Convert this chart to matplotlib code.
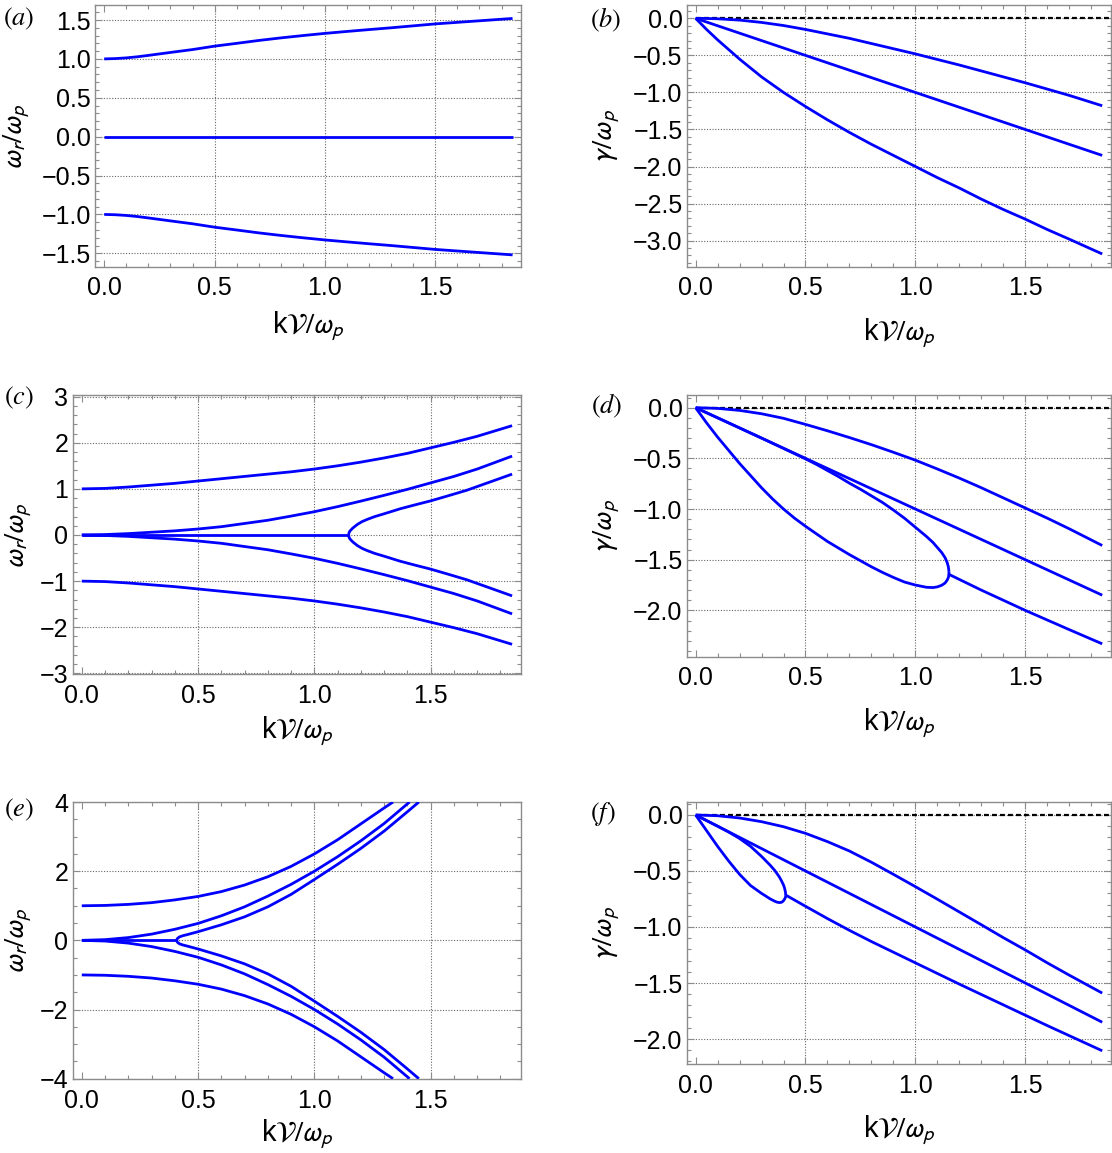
import numpy as np
import matplotlib
matplotlib.use('Agg')
import matplotlib.pyplot as plt
from matplotlib.ticker import MultipleLocator, FixedLocator, FuncFormatter

plt.rcParams['font.family'] = ['Liberation Sans', 'DejaVu Sans']
plt.rcParams['mathtext.fontset'] = 'stixsans'

# -------------------------
# data
# -------------------------
k_std = [0, 0.1, 0.2, 0.3, 0.4, 0.5, 0.6, 0.7, 0.8, 0.9, 1.0,
         1.1, 1.2, 1.3, 1.4, 1.5, 1.6, 1.7, 1.85]
k_line = [0, 1.85]

# (a) real part
k_a = [0, 0.05, 0.1, 0.15, 0.2, 0.3, 0.4, 0.5, 0.6, 0.7, 0.8, 0.9, 1.0,
       1.1, 1.2, 1.3, 1.4, 1.5, 1.6, 1.7, 1.85]
wr_a_up = [1.0, 1.004, 1.013, 1.027, 1.045, 1.083, 1.12, 1.164, 1.20, 1.237, 1.27, 1.30, 1.328,
           1.353, 1.377, 1.40, 1.425, 1.45, 1.47, 1.49, 1.52]
wr_a_lo = [-1.0, -1.004, -1.013, -1.027, -1.045, -1.083, -1.12, -1.164, -1.20, -1.237, -1.27, -1.30, -1.328,
           -1.353, -1.377, -1.40, -1.425, -1.45, -1.47, -1.49, -1.52]
wr_a_zero = [0, 0]

# (b) damping
k_b = [0, 0.05, 0.1, 0.2, 0.3, 0.4, 0.5, 0.6, 0.7, 0.8, 0.9, 1.0,
       1.1, 1.2, 1.3, 1.4, 1.5, 1.6, 1.7, 1.85]
g_b_up = [0, -0.002, -0.006, -0.024, -0.055, -0.097, -0.15, -0.21, -0.27, -0.34, -0.41, -0.48,
          -0.555, -0.63, -0.71, -0.79, -0.87, -0.955, -1.04, -1.18]
g_b_lo = [0, -0.15, -0.29, -0.55, -0.79, -1.0, -1.19, -1.37, -1.54, -1.70, -1.85, -2.0,
          -2.15, -2.29, -2.44, -2.58, -2.71, -2.85, -2.98, -3.18]
g_line = [0, -1.85]

# (c) real part
wr_c_1 = [1.0, 1.01, 1.04, 1.08, 1.12, 1.17, 1.22, 1.27, 1.32, 1.37, 1.43,
          1.50, 1.58, 1.67, 1.77, 1.89, 2.01, 2.14, 2.37]
wr_c_2 = [0, 0.01, 0.03, 0.06, 0.09, 0.13, 0.18, 0.25, 0.32, 0.41, 0.505,
          0.615, 0.735, 0.86, 0.99, 1.13, 1.27, 1.43, 1.71]
wr_c_5 = [-1.0, -1.01, -1.04, -1.08, -1.12, -1.17, -1.22, -1.27, -1.32, -1.37, -1.43,
          -1.50, -1.58, -1.67, -1.77, -1.89, -2.01, -2.14, -2.37]
wr_c_4 = [0, -0.01, -0.03, -0.06, -0.09, -0.13, -0.18, -0.25, -0.32, -0.41, -0.505,
          -0.615, -0.735, -0.86, -0.99, -1.13, -1.27, -1.43, -1.71]
k_c_zero = [0, 1.147]
k_c_split = [1.147, 1.149, 1.152, 1.157, 1.165, 1.175, 1.185, 1.205, 1.228, 1.26, 1.3,
             1.37, 1.43, 1.5, 1.575, 1.655, 1.75, 1.85]
wr_c_split_up = [0, 0.05, 0.08, 0.108, 0.15, 0.19, 0.23, 0.29, 0.34, 0.40, 0.46,
                 0.57, 0.65, 0.74, 0.85, 0.97, 1.14, 1.32]
wr_c_split_lo = [0, -0.05, -0.08, -0.108, -0.15, -0.19, -0.23, -0.29, -0.34, -0.40, -0.46,
                 -0.57, -0.65, -0.74, -0.85, -0.97, -1.14, -1.32]

# (d) damping
g_d_up = [0, -0.007, -0.027, -0.06, -0.105, -0.165, -0.228, -0.295, -0.365, -0.44, -0.518,
          -0.605, -0.695, -0.79, -0.89, -0.99, -1.09, -1.195, -1.36]
k_d_loop_up = [0, 0.1, 0.2, 0.3, 0.4, 0.5, 0.55, 0.6, 0.65, 0.7, 0.75, 0.8, 0.85, 0.9, 0.95,
               1.0, 1.05, 1.08, 1.1, 1.12, 1.135, 1.145, 1.15, 1.153]
g_d_loop_up = [0, -0.1, -0.2, -0.3, -0.402, -0.505, -0.56, -0.62, -0.68, -0.745, -0.805, -0.87,
               -0.935, -1.01, -1.09, -1.18, -1.27, -1.33, -1.38, -1.43, -1.48, -1.53, -1.57, -1.62]
k_d_loop_lo = [0, 0.025, 0.05, 0.1, 0.15, 0.2, 0.25, 0.3, 0.35, 0.4, 0.45, 0.5, 0.6, 0.7, 0.8,
               0.85, 0.9, 0.95, 1.0, 1.05, 1.08, 1.1, 1.12, 1.135, 1.145, 1.151, 1.153]
g_d_loop_lo = [0, -0.075, -0.15, -0.29, -0.42, -0.55, -0.67, -0.79, -0.90, -1.0, -1.09, -1.17,
               -1.32, -1.45, -1.57, -1.625, -1.675, -1.72, -1.75, -1.772, -1.775, -1.768,
               -1.752, -1.73, -1.70, -1.67, -1.62]
k_d_tail = [1.153, 1.3, 1.5, 1.7, 1.85]
g_d_tail = [-1.645, -1.80, -2.0, -2.19, -2.33]

# (e) real part
k_e_1 = [0, 0.1, 0.2, 0.3, 0.4, 0.5, 0.6, 0.7, 0.8, 0.9, 1.0, 1.1, 1.2, 1.3, 1.338]
wr_e_1 = [1.0, 1.01, 1.04, 1.09, 1.17, 1.27, 1.41, 1.60, 1.84, 2.14, 2.50, 2.91, 3.37, 3.83, 4.0]
wr_e_6 = [-1.0, -1.01, -1.04, -1.09, -1.17, -1.27, -1.41, -1.60, -1.84, -2.14, -2.50, -2.91, -3.37, -3.83, -4.0]
k_e_2 = [0, 0.1, 0.2, 0.3, 0.4, 0.5, 0.6, 0.7, 0.8, 0.9, 1.0, 1.1, 1.2, 1.3, 1.409]
wr_e_2 = [0, 0.02, 0.08, 0.18, 0.32, 0.49, 0.71, 0.97, 1.28, 1.62, 2.0, 2.42, 2.88, 3.38, 4.0]
wr_e_5 = [0, -0.02, -0.08, -0.18, -0.32, -0.49, -0.71, -0.97, -1.28, -1.62, -2.0, -2.42, -2.88, -3.38, -4.0]
k_e_3 = [0.408, 0.409, 0.412, 0.42, 0.435, 0.45, 0.5, 0.6, 0.7, 0.8, 0.9, 1.0, 1.1, 1.2, 1.3, 1.4, 1.449]
wr_e_3 = [0, 0.03, 0.06, 0.10, 0.135, 0.16, 0.25, 0.45, 0.68, 0.97, 1.33, 1.76, 2.20, 2.66, 3.16, 3.72, 4.0]
wr_e_4 = [0, -0.03, -0.06, -0.10, -0.135, -0.16, -0.25, -0.45, -0.68, -0.97, -1.33, -1.76, -2.20, -2.66, -3.16, -3.72, -4.0]
k_e_zero = [0, 0.408]

# (f) damping
g_f_up = [0, -0.007, -0.027, -0.06, -0.105, -0.164, -0.238, -0.322, -0.422, -0.53, -0.64,
          -0.752, -0.866, -0.98, -1.095, -1.205, -1.32, -1.43, -1.59]
k_f_loop_up = [0, 0.05, 0.1, 0.15, 0.2, 0.25, 0.3, 0.32, 0.34, 0.36, 0.38, 0.39, 0.40, 0.405, 0.409, 0.41]
g_f_loop_up = [0, -0.05, -0.1, -0.152, -0.21, -0.28, -0.37, -0.41, -0.45, -0.495, -0.55, -0.585,
               -0.625, -0.655, -0.69, -0.72]
k_f_loop_lo = [0, 0.025, 0.05, 0.1, 0.15, 0.2, 0.25, 0.3, 0.32, 0.34, 0.36, 0.37, 0.38, 0.39,
               0.395, 0.40, 0.405, 0.409, 0.41]
g_f_loop_lo = [0, -0.07, -0.14, -0.28, -0.41, -0.53, -0.63, -0.70, -0.725, -0.75, -0.77, -0.778,
               -0.782, -0.78, -0.775, -0.765, -0.75, -0.735, -0.72]
k_f_tail = [0.41, 0.5, 0.6, 0.7, 0.8, 0.9, 1.0, 1.2, 1.4, 1.6, 1.85]
g_f_tail = [-0.715, -0.815, -0.925, -1.03, -1.13, -1.225, -1.32, -1.51, -1.695, -1.88, -2.105]

# -------------------------
# figure
# -------------------------
W, H = 1112, 1153
fig = plt.figure(figsize=(W / 100, H / 100), dpi=100)

BLUE = '#0000ff'
LW = 2.0
FRAME = '0.55'
LABEL_FS = 21


def px_axes(l, t, r, b):
    return fig.add_axes([l / W, 1 - b / H, (r - l) / W, (b - t) / H])


def fmt1(v, p):
    s = f'{v:.1f}'
    if s == '-0.0':
        s = '0.0'
    return s.replace('-', '\u2212')


def fmt0(v, p):
    s = f'{v:.0f}'
    if s == '-0':
        s = '0'
    return s.replace('-', '\u2212')


def style(ax, ylim, ymaj, ymin, yfmt):
    ax.set_xlim(-0.04, 1.89)
    ax.set_ylim(*ylim)
    ax.xaxis.set_major_locator(FixedLocator([0.0, 0.5, 1.0, 1.5]))
    ax.xaxis.set_minor_locator(MultipleLocator(0.1))
    ax.xaxis.set_major_formatter(FuncFormatter(fmt1))
    ax.yaxis.set_major_locator(MultipleLocator(ymaj))
    ax.yaxis.set_minor_locator(MultipleLocator(ymin))
    ax.yaxis.set_major_formatter(FuncFormatter(yfmt))
    ax.tick_params(which='both', direction='in', top=True, right=True,
                   color=FRAME, width=0.8, labelsize=18)
    ax.tick_params(which='major', length=5)
    ax.tick_params(which='minor', length=2.8)
    ax.tick_params(axis='x', pad=7)
    ax.tick_params(axis='y', pad=3)
    for s in ax.spines.values():
        s.set_color(FRAME)
        s.set_linewidth(1.0)
    # grid: horizontal at major y ticks, vertical at 0.5, 1.0, 1.5
    for xv in [0.5, 1.0, 1.5]:
        ax.axvline(xv, color='0.4', lw=0.8, ls=(0, (1, 1.5)), zorder=0)
    yt = np.arange(np.ceil(ylim[0] / ymaj) * ymaj, ylim[1] + 1e-9, ymaj)
    for yv in yt:
        ax.axhline(yv, color='0.4', lw=0.8, ls=(0, (1, 1.5)), zorder=0)


def blue(ax, x, y):
    ax.plot(x, y, color=BLUE, lw=LW, solid_capstyle='butt', solid_joinstyle='round', zorder=3)


def zero_dash(ax):
    ax.plot([0, 1.89], [0, 0], color='black', lw=1.6, ls=(0, (2.2, 1.4)), zorder=2)


def labels(ax, ylab, yx, xy):
    ax.set_ylabel(ylab, fontsize=LABEL_FS)
    ax.yaxis.set_label_coords(yx, 0.5)
    ax.set_xlabel(r'k$\mathcal{V}/\omega_p$', fontsize=LABEL_FS)
    ax.xaxis.set_label_coords(0.5, xy)


ylab_r = r'$\omega_r/\omega_p$'
ylab_g = r'$\gamma/\omega_p$'

# (a)
ax_a = px_axes(95.4, 5, 521.4, 266.7)
style(ax_a, (-1.672, 1.693), 0.5, 0.1, fmt1)
blue(ax_a, k_a, wr_a_up)
blue(ax_a, k_line, wr_a_zero)
blue(ax_a, k_a, wr_a_lo)
labels(ax_a, ylab_r, -0.149, -0.165)

# (b)
ax_b = px_axes(686.8, 5, 1111, 266.7)
style(ax_b, (-3.352, 0.18), 0.5, 0.1, fmt1)
zero_dash(ax_b)
blue(ax_b, k_b, g_b_up)
blue(ax_b, k_line, g_line)
blue(ax_b, k_b, g_b_lo)
labels(ax_b, ylab_g, -0.153, -0.19)

# (c)
ax_c = px_axes(72.5, 395, 521.4, 674.3)
style(ax_c, (-3.02, 3.035), 1, 0.2, fmt0)
blue(ax_c, k_std, wr_c_1)
blue(ax_c, k_std, wr_c_2)
blue(ax_c, k_c_zero, [0, 0])
blue(ax_c, k_c_split, wr_c_split_up)
blue(ax_c, k_c_split, wr_c_split_lo)
blue(ax_c, k_std, wr_c_4)
blue(ax_c, k_std, wr_c_5)
labels(ax_c, ylab_r, -0.086, -0.145)

# (d)
ax_d = px_axes(686.8, 395, 1111, 656.7)
style(ax_d, (-2.457, 0.125), 0.5, 0.1, fmt1)
zero_dash(ax_d)
blue(ax_d, k_std, g_d_up)
blue(ax_d, k_line, g_line)
blue(ax_d, k_d_loop_up, g_d_loop_up)
blue(ax_d, k_d_loop_lo, g_d_loop_lo)
blue(ax_d, k_d_tail, g_d_tail)
labels(ax_d, ylab_g, -0.153, -0.19)

# (e)
ax_e = px_axes(72.5, 801.7, 521.4, 1079)
style(ax_e, (-4.01, 4.01), 2, 0.5, fmt0)
blue(ax_e, k_e_1, wr_e_1)
blue(ax_e, k_e_2, wr_e_2)
blue(ax_e, k_e_3, wr_e_3)
blue(ax_e, k_e_zero, [0, 0])
blue(ax_e, k_e_3, wr_e_4)
blue(ax_e, k_e_2, wr_e_5)
blue(ax_e, k_e_1, wr_e_6)
labels(ax_e, ylab_r, -0.086, -0.14)

# (f)
ax_f = px_axes(686.8, 802.3, 1111, 1064)
style(ax_f, (-2.223, 0.113), 0.5, 0.1, fmt1)
zero_dash(ax_f)
blue(ax_f, k_std, g_f_up)
blue(ax_f, k_line, g_line)
blue(ax_f, k_f_loop_up, g_f_loop_up)
blue(ax_f, k_f_loop_lo, g_f_loop_lo)
blue(ax_f, k_f_tail, g_f_tail)
labels(ax_f, ylab_g, -0.153, -0.19)

# panel letters
for lbl, x, y in [('a', 3, 6), ('b', 590, 6), ('c', 4, 385), ('d', 591, 392),
                  ('e', 4, 797), ('f', 590, 800)]:
    fig.text(x / W, 1 - y / H, rf'$({lbl})$', ha='left', va='top',
             fontsize=19, math_fontfamily='stix')

fig.savefig('out.png', dpi=100)
